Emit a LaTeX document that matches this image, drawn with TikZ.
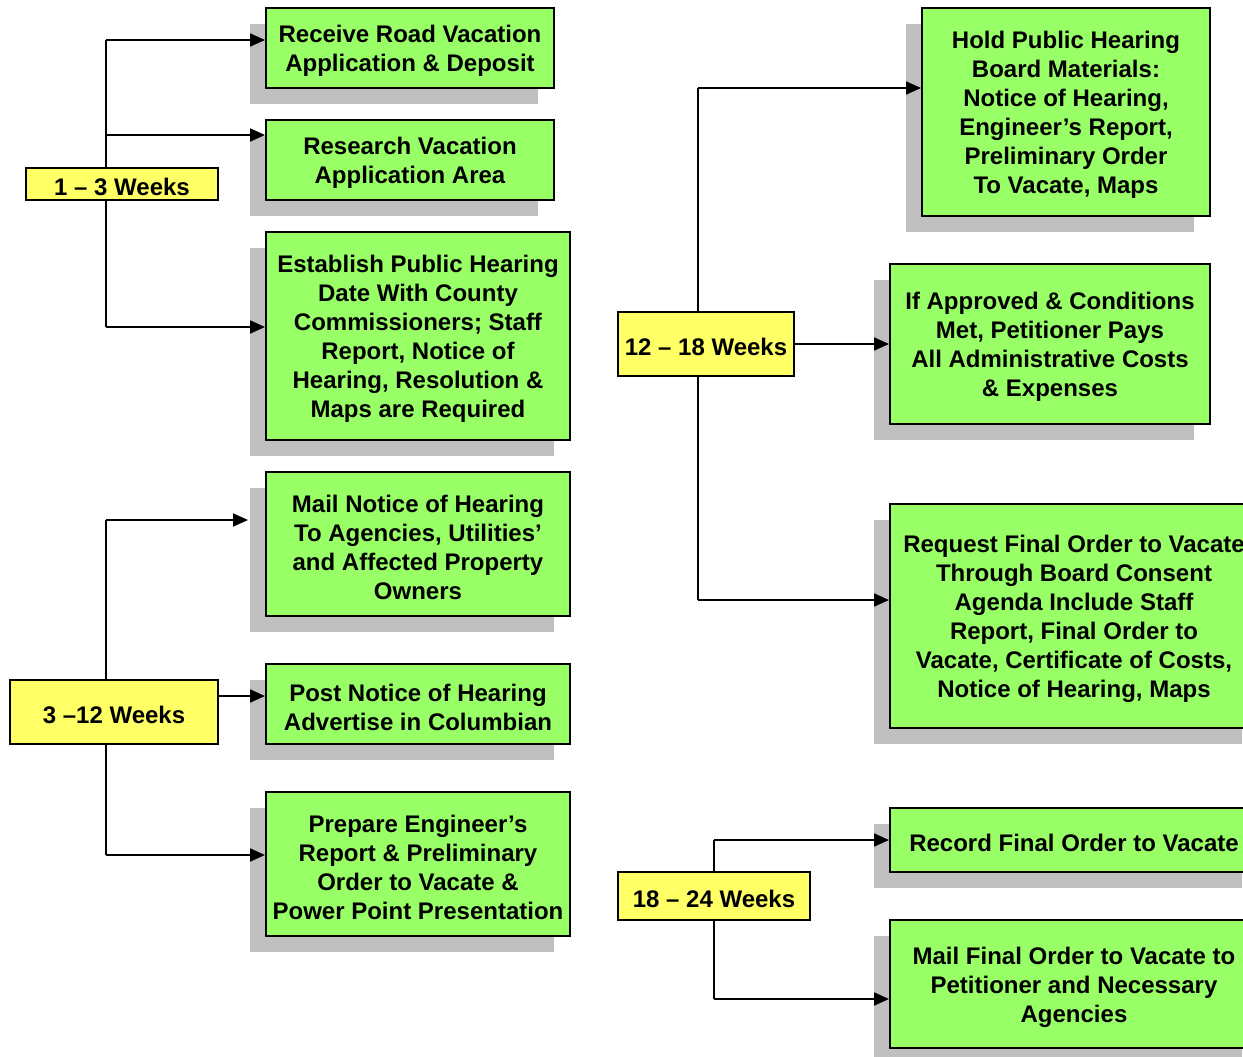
\documentclass[tikz,border=0pt]{standalone}
\usepackage{fontspec}
\setmainfont{Liberation Sans}
\usetikzlibrary{arrows.meta}
\definecolor{gfill}{HTML}{99FF66}
\definecolor{yfill}{HTML}{FFFF66}
\definecolor{shadowc}{HTML}{C0C0C0}
\pgfdeclarelayer{back}
\pgfdeclarelayer{mid}
\pgfsetlayers{back,mid,main}
\tikzset{
  gb/.style={draw=black, line width=2pt, fill=gfill, inner sep=0pt},
  yb/.style={draw=black, line width=2pt, fill=yfill, inner sep=0pt},
  lbl/.style={inner sep=0pt, align=center, yshift=-3pt,
    font=\bfseries\fontsize{24}{29}\selectfont},
  trunk/.style={line width=2pt},
  arr/.style={line width=2pt, -{Triangle[length=15pt,width=13pt]}},
}
\newcommand\greenbox[6]{%
  \begin{pgfonlayer}{back}
  \fill[shadowc] ({#2-16},{#3+16}) rectangle ({#4-16},{#5+16});
  \end{pgfonlayer}
  \node[gb, minimum width={(#4-#2)*1pt}, minimum height={(#5-#3)*1pt}] (#1) at ({(#2+#4)/2},{(#3+#5)/2}) {};
  \node[lbl] (#1t) at (#1.center) {#6};}
\newcommand\yellowbox[6]{%
  \node[yb, minimum width={(#4-#2)*1pt}, minimum height={(#5-#3)*1pt}] (#1) at ({(#2+#4)/2},{(#3+#5)/2}) {};
  \node[lbl] (#1t) at (#1.center) {#6};}
\begin{document}
\begin{tikzpicture}[x=1pt,y=-1pt]
\useasboundingbox (0,0) rectangle (1243,1057);
% green boxes
\greenbox{b1}{266}{8}{554}{88}{Receive Road Vacation\\Application \& Deposit}
\greenbox{b2}{266}{120}{554}{200}{Research Vacation\\Application Area}
\greenbox{b3}{266}{232}{570}{440}{Establish Public Hearing\\Date With County\\Commissioners; Staff\\Report, Notice of\\Hearing, Resolution \&\\Maps are Required}
\greenbox{b4}{266}{472}{570}{616}{Mail Notice of Hearing\\To Agencies, Utilities’\\and Affected Property\\Owners}
\greenbox{b5}{266}{664}{570}{744}{Post Notice of Hearing\\Advertise in Columbian}
\greenbox{b6}{266}{792}{570}{936}{Prepare Engineer’s\\Report \& Preliminary\\Order to Vacate \&\\Power Point Presentation}
\greenbox{b7}{922}{8}{1210}{216}{Hold Public Hearing\\Board Materials:\\Notice of Hearing,\\Engineer’s Report,\\Preliminary Order\\To Vacate, Maps}
\greenbox{b8}{890}{264}{1210}{424}{If Approved \& Conditions\\Met, Petitioner Pays\\All Administrative Costs\\\& Expenses}
\greenbox{b9}{890}{504}{1258}{728}{Request Final Order to Vacate\\Through Board Consent\\Agenda Include Staff\\Report, Final Order to\\Vacate, Certificate of Costs,\\Notice of Hearing, Maps}
\greenbox{b10}{890}{808}{1258}{872}{Record Final Order to Vacate}
\greenbox{b11}{890}{920}{1258}{1048}{Mail Final Order to Vacate to\\Petitioner and Necessary\\Agencies}
% yellow boxes
\yellowbox{y1}{26}{168}{218}{200}{1 – 3 Weeks}
\yellowbox{y2}{10}{680}{218}{744}{3 –12 Weeks}
\yellowbox{y3}{618}{312}{794}{376}{12 – 18 Weeks}
\yellowbox{y4}{618}{872}{810}{920}{18 – 24 Weeks}
% connectors
\coordinate (t1a) at (106,40);
\coordinate (t1m) at (106,135);
\coordinate (t1b) at (106,327);
\coordinate (t2a) at (106,520);
\coordinate (t2m) at (106,696);
\coordinate (t2b) at (106,855);
\coordinate (t3a) at (698,88);
\coordinate (t3m) at (698,344);
\coordinate (t3b) at (698,600);
\coordinate (t4a) at (714,840);
\coordinate (t4b) at (714,999);
\begin{pgfonlayer}{mid}
\draw[trunk] (t1a) -- (t1b);
\draw[arr] (t1a) -- (t1a -| b1.west);
\draw[arr] (t1m) -- (t1m -| b2.west);
\draw[arr] (t1b) -- (t1b -| b3.west);
\draw[trunk] (t2a) -- (t2b);
\draw[arr] (t2a) -- ([xshift=-17pt]t2a -| b4.west);
\draw[arr] (t2m -| y2.east) -- (t2m -| b5.west);
\draw[arr] (t2b) -- (t2b -| b6.west);
\draw[trunk] (t3a) -- (t3b);
\draw[arr] (t3a) -- (t3a -| b7.west);
\draw[arr] (t3m -| y3.east) -- (t3m -| b8.west);
\draw[arr] (t3b) -- (t3b -| b9.west);
\draw[trunk] (t4a) -- (t4b);
\draw[arr] (t4a) -- (t4a -| b10.west);
\draw[arr] (t4b) -- (t4b -| b11.west);
\end{pgfonlayer}
\end{tikzpicture}
\end{document}
